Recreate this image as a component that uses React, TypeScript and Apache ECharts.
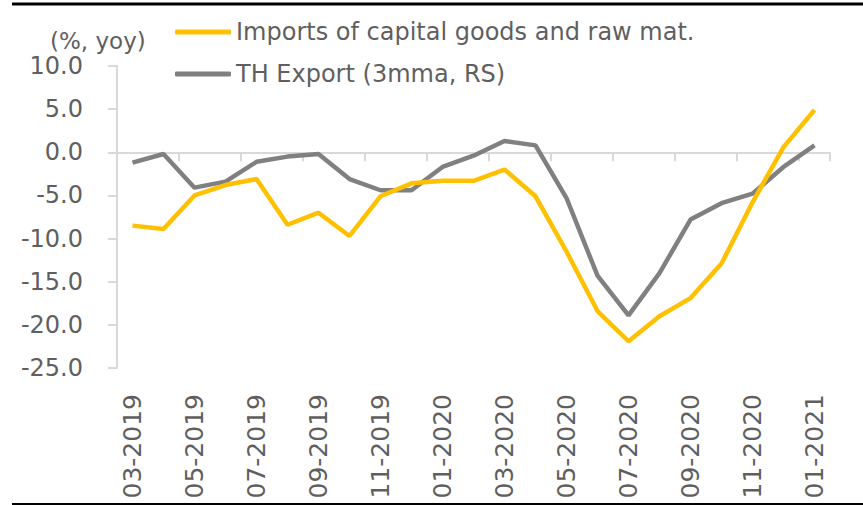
import React, { useEffect, useRef } from "react";
import * as echarts from "echarts";

const categories = [
  "03-2019", "04-2019", "05-2019", "06-2019", "07-2019", "08-2019", "09-2019", "10-2019",
  "11-2019", "12-2019", "01-2020", "02-2020", "03-2020", "04-2020", "05-2020", "06-2020",
  "07-2020", "08-2020", "09-2020", "10-2020", "11-2020", "12-2020", "01-2021",
];
const importsSeries = [
  -8.5, -8.9, -5.0, -3.8, -3.1, -8.4, -7.0, -9.7, -5.1, -3.6, -3.3, -3.3,
  -2.0, -5.1, -11.5, -18.4, -21.9, -19.0, -16.9, -12.9, -5.8, 0.6, 4.9,
];
const exportSeries = [
  -1.2, -0.2, -4.1, -3.4, -1.1, -0.5, -0.2, -3.1, -4.4, -4.4, -1.7, -0.4,
  1.3, 0.8, -5.3, -14.3, -18.9, -14.0, -7.8, -5.9, -4.8, -1.7, 0.8,
];
const seriesNames = ["Imports of capital goods and raw mat.", "TH Export (3mma, RS)"];
const unitLabel = "(%, yoy)";

const FONT = "DejaVu Sans";
const TEXT = "#5f5f5f";
const AXIS = "#d9d9d9";

export default function App() {
  const ref = useRef<HTMLDivElement>(null);
  useEffect(() => {
    if (!ref.current) return;
    const chart = echarts.init(ref.current, undefined, { renderer: "svg" });
    chart.setOption({
      animation: false,
      backgroundColor: "#ffffff",
      textStyle: { fontFamily: FONT },
      grid: { left: 117, right: 33, top: 66, bottom: 137, containLabel: false },
      legend: {
        orient: "vertical",
        left: 175,
        top: 18,
        padding: 0,
        itemWidth: 56,
        itemHeight: 5,
        itemGap: 14,
        icon: "roundRect",
        textStyle: { color: TEXT, fontSize: 24, fontFamily: FONT, lineHeight: 28 },
        data: seriesNames,
      },
      graphic: [
        { type: "line", shape: { x1: 12, y1: 4, x2: 863, y2: 4 }, style: { stroke: "#000", lineWidth: 3 } },
        { type: "line", shape: { x1: 12, y1: 504, x2: 863, y2: 504 }, style: { stroke: "#000", lineWidth: 2 } },
        {
          type: "text",
          left: 50,
          top: 29,
          style: { text: unitLabel, fill: TEXT, fontSize: 23, fontFamily: FONT },
        },
      ],
      xAxis: [
        {
          type: "category",
          data: categories,
          position: "bottom",
          axisLine: { show: false, onZero: false },
          axisTick: { show: false },
          axisLabel: {
            rotate: 90,
            interval: 1,
            margin: 26,
            color: TEXT,
            fontSize: 25,
            fontFamily: FONT,
          },
        },
        {
          type: "category",
          data: categories,
          position: "bottom",
          axisLine: { show: true, onZero: true, lineStyle: { color: AXIS, width: 2 } },
          axisTick: { show: true, interval: 1, length: 9, lineStyle: { color: AXIS, width: 2 } },
          axisLabel: { show: false },
        },
      ],
      yAxis: {
        type: "value",
        min: -25,
        max: 10,
        interval: 5,
        splitLine: { show: false },
        axisLine: { show: true, lineStyle: { color: AXIS, width: 2 } },
        axisTick: { show: true, length: 9, lineStyle: { color: AXIS, width: 2 } },
        axisLabel: {
          margin: 34,
          color: TEXT,
          fontSize: 24,
          fontFamily: FONT,
          formatter: (v: number) => v.toFixed(1),
        },
      },
      series: [
        {
          name: seriesNames[0],
          type: "line",
          data: importsSeries,
          xAxisIndex: 0,
          showSymbol: false,
          symbol: "none",
          lineStyle: { color: "#FFC000", width: 4.5 },
          itemStyle: { color: "#FFC000" },
          z: 3,
        },
        {
          name: seriesNames[1],
          type: "line",
          data: exportSeries,
          xAxisIndex: 0,
          showSymbol: false,
          symbol: "none",
          lineStyle: { color: "#808080", width: 4.5 },
          itemStyle: { color: "#808080" },
          z: 2,
        },
      ],
    });
    return () => chart.dispose();
  }, []);
  return <div ref={ref} style={{ width: 863, height: 505, position: "absolute", left: 0, top: 0 }} />;
}
